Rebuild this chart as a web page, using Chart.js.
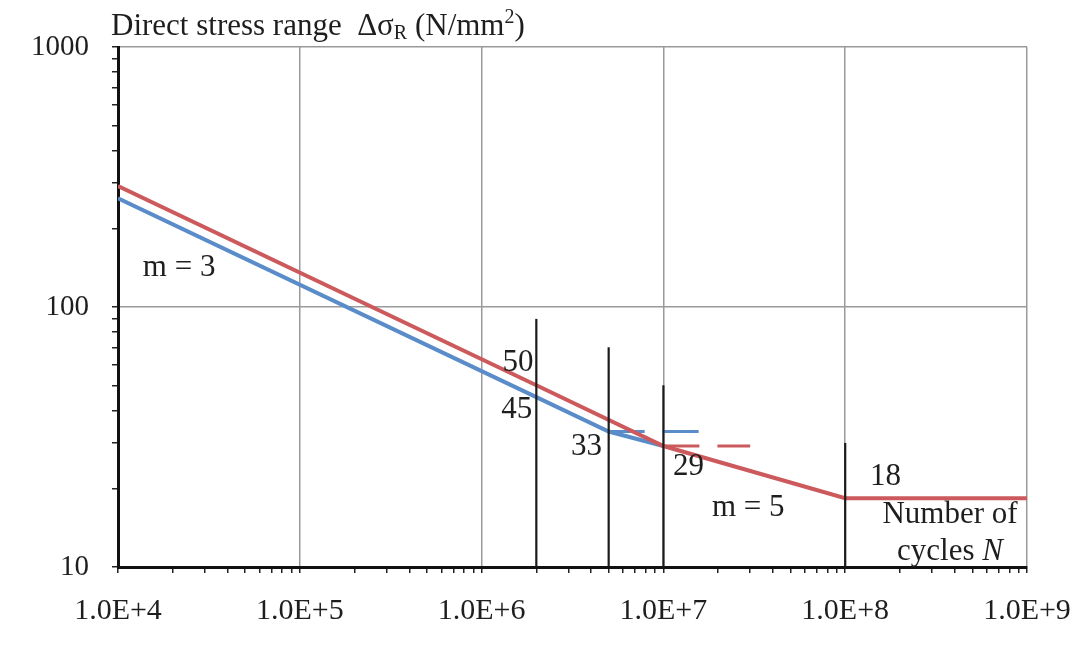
<!DOCTYPE html>
<html>
<head>
<meta charset="utf-8">
<script src="https://cdn.jsdelivr.net/npm/chart.js@4/dist/chart.umd.min.js"></script>
<style>
  html, body { margin: 0; padding: 0; background: #ffffff; }
  #wrap { position: relative; width: 1091px; height: 646px; }
</style>
</head>
<body>
<div id="wrap"><canvas id="c"></canvas></div>
<script>
// ---- data ----
const redN  = [1e4, 2e6, 1e7, 1e8, 1e9];          // detail category 50
const redS  = [292, 50, 29.2, 18.4, 18.4];
const blueN = [1e4, 2e6, 5e6, 1e7];               // detail category 45
const blueS = [262, 45, 33.2, 29.2];
const blueCutN = [5e6, 1.6e7];                    // constant amplitude limit (blue, dashed)
const blueCutS = [33.2, 33.2];
const redCutN  = [1e7, 3e7];                      // constant amplitude limit (red, dashed)
const redCutS  = [29.2, 29.2];
const markN   = [2e6, 5e6, 1e7, 1e8];             // vertical reference lines
const markTop = [90, 70, 50, 30];
const markBottom = 10;

const xTickValues = [1e4, 1e5, 1e6, 1e7, 1e8, 1e9];
const xTickLabels = ['1.0E+4', '1.0E+5', '1.0E+6', '1.0E+7', '1.0E+8', '1.0E+9'];
const yTickValues = [10, 100, 1000];
const yTickLabels = ['10', '100', '1000'];

const yTitle = ['Direct stress range  \u0394\u03c3', 'R', ' (N/mm', '2', ')'];

// text notes anchored at data coordinates
const notes = [
  { text: 'm = 3', n: 1.37e4, s: 141,  align: 'left'   },
  { text: '50',    n: 1.93e6, s: 61,   align: 'right'  },
  { text: '45',    n: 1.9e6,  s: 40.2, align: 'right'  },
  { text: '33',    n: 4.6e6,  s: 29,   align: 'right'  },
  { text: '29',    n: 1.13e7, s: 24.3, align: 'left'   },
  { text: 'm = 5', n: 1.85e7, s: 16.9, align: 'left'   },
  { text: '18',    n: 1.37e8, s: 22.2, align: 'left'   },
  { text: 'Number of', n: 3.77e8, s: 15.85, align: 'center' }
];
const cyclesNote = { pre: 'cycles ', ital: 'N', n: 3.77e8, s: 11.4 };

// ---- helpers ----
const pts = (xs, ys) => xs.map((x, i) => ({ x: x, y: ys[i] }));
const isDecade = v => Math.abs(Math.log10(v) - Math.round(Math.log10(v))) < 1e-9;
function logTicks(min, max) {
  const out = [];
  for (let e = Math.round(Math.log10(min)); e <= Math.round(Math.log10(max)); e++) {
    for (let k = 1; k <= 9; k++) {
      const v = k * Math.pow(10, e);
      if (v >= min * 0.999 && v <= max * 1.001) out.push({ value: v, major: k === 1 });
    }
  }
  return out;
}

const FONT = '"Liberation Serif", "Times New Roman", serif';
const TXT = '#1e1e1e';
const RED = '#cc5a5c';
const BLUE = '#5a8cca';
const GRID = '#9a9a9a';
const NOTE = 31, SMALL = 20;

const markSets = markN.map((n, i) => ({
  data: pts([n, n], [markBottom, markTop[i]]),
  borderColor: '#1a1a1a', borderWidth: 2.2, pointRadius: 0, order: 0
}));

const datasets = [
  { data: pts(redN, redS), borderColor: RED, borderWidth: 4, pointRadius: 0, order: 1 },
  { data: pts(redCutN, redCutS), borderColor: RED, borderWidth: 3, borderDash: [36, 18], pointRadius: 0, order: 2 },
  { data: pts(blueN, blueS), borderColor: BLUE, borderWidth: 4, pointRadius: 0, order: 3 },
  { data: pts(blueCutN, blueCutS), borderColor: BLUE, borderWidth: 3, borderDash: [36, 18], pointRadius: 0, order: 4 }
].concat(markSets);

const textPlugin = {
  id: 'texts',
  afterDraw(chart) {
    const ctx = chart.ctx, xs = chart.scales.x, ys = chart.scales.y, ca = chart.chartArea;
    const f = (sz, it) => (it ? 'italic ' : '') + sz + 'px ' + FONT;
    ctx.save();
    ctx.fillStyle = TXT;
    ctx.textBaseline = 'middle';
    ctx.font = f(NOTE);
    notes.forEach(t => {
      ctx.textAlign = t.align;
      ctx.fillText(t.text, xs.getPixelForValue(t.n), ys.getPixelForValue(t.s));
    });
    // "cycles N" with italic N
    ctx.textAlign = 'left';
    const w1 = ctx.measureText(cyclesNote.pre).width;
    ctx.font = f(NOTE, true);
    const w2 = ctx.measureText(cyclesNote.ital).width;
    const cx = xs.getPixelForValue(cyclesNote.n) - (w1 + w2) / 2;
    const cy = ys.getPixelForValue(cyclesNote.s);
    ctx.font = f(NOTE);
    ctx.fillText(cyclesNote.pre, cx, cy);
    ctx.font = f(NOTE, true);
    ctx.fillText(cyclesNote.ital, cx + w1, cy);
    // axis title with subscript/superscript
    let tx = ca.left - 7;
    const ty = ca.top - 20;
    ctx.font = f(NOTE);
    ctx.fillText(yTitle[0], tx, ty); tx += ctx.measureText(yTitle[0]).width;
    ctx.font = f(SMALL);
    ctx.fillText(yTitle[1], tx, ty + 7); tx += ctx.measureText(yTitle[1]).width;
    ctx.font = f(NOTE);
    ctx.fillText(yTitle[2], tx, ty); tx += ctx.measureText(yTitle[2]).width;
    ctx.font = f(SMALL);
    ctx.fillText(yTitle[3], tx, ty - 9); tx += ctx.measureText(yTitle[3]).width;
    ctx.font = f(NOTE);
    ctx.fillText(yTitle[4], tx, ty);
    ctx.restore();
  }
};

new Chart(document.getElementById('c'), {
  type: 'line',
  data: { datasets: datasets },
  plugins: [textPlugin],
  options: {
    responsive: true,
    maintainAspectRatio: false,
    animation: false,
    layout: { padding: { left: 0, top: 47, right: 64, bottom: 0 } },
    plugins: { legend: { display: false }, tooltip: { enabled: false } },
    elements: { line: { tension: 0, fill: false, borderCapStyle: 'butt' } },
    scales: {
      x: {
        type: 'logarithmic', min: 1e4, max: 1e9,
        afterBuildTicks: s => { s.ticks = logTicks(1e4, 1e9); },
        afterFit: s => { s.height = 79; },
        border: { display: true, color: '#111', width: 3 },
        grid: {
          color: c => (c.tick && isDecade(c.tick.value) && c.tick.value > 1e4) ? GRID : 'rgba(0,0,0,0)',
          lineWidth: 1.5,
          tickColor: '#222', tickLength: 6, drawTicks: true
        },
        ticks: {
          autoSkip: false, maxRotation: 0, minRotation: 0, padding: 20,
          color: TXT, font: { family: FONT, size: 30 },
          callback: (v) => { const i = xTickValues.findIndex(t => Math.abs(t - v) / t < 1e-6); return i >= 0 ? xTickLabels[i] : ''; }
        }
      },
      y: {
        type: 'logarithmic', min: 10, max: 1000,
        afterBuildTicks: s => { s.ticks = logTicks(10, 1000); },
        afterFit: s => { s.width = 118; },
        border: { display: true, color: '#111', width: 3 },
        grid: {
          color: c => (c.tick && isDecade(c.tick.value) && c.tick.value > 10) ? GRID : 'rgba(0,0,0,0)',
          lineWidth: 1.5,
          tickColor: '#222', tickLength: 6, drawTicks: true
        },
        ticks: {
          autoSkip: false, padding: 23,
          color: TXT, font: { family: FONT, size: 29 },
          callback: (v) => { const i = yTickValues.findIndex(t => Math.abs(t - v) / t < 1e-6); return i >= 0 ? yTickLabels[i] : ''; }
        }
      }
    }
  }
});
</script>
</body>
</html>
